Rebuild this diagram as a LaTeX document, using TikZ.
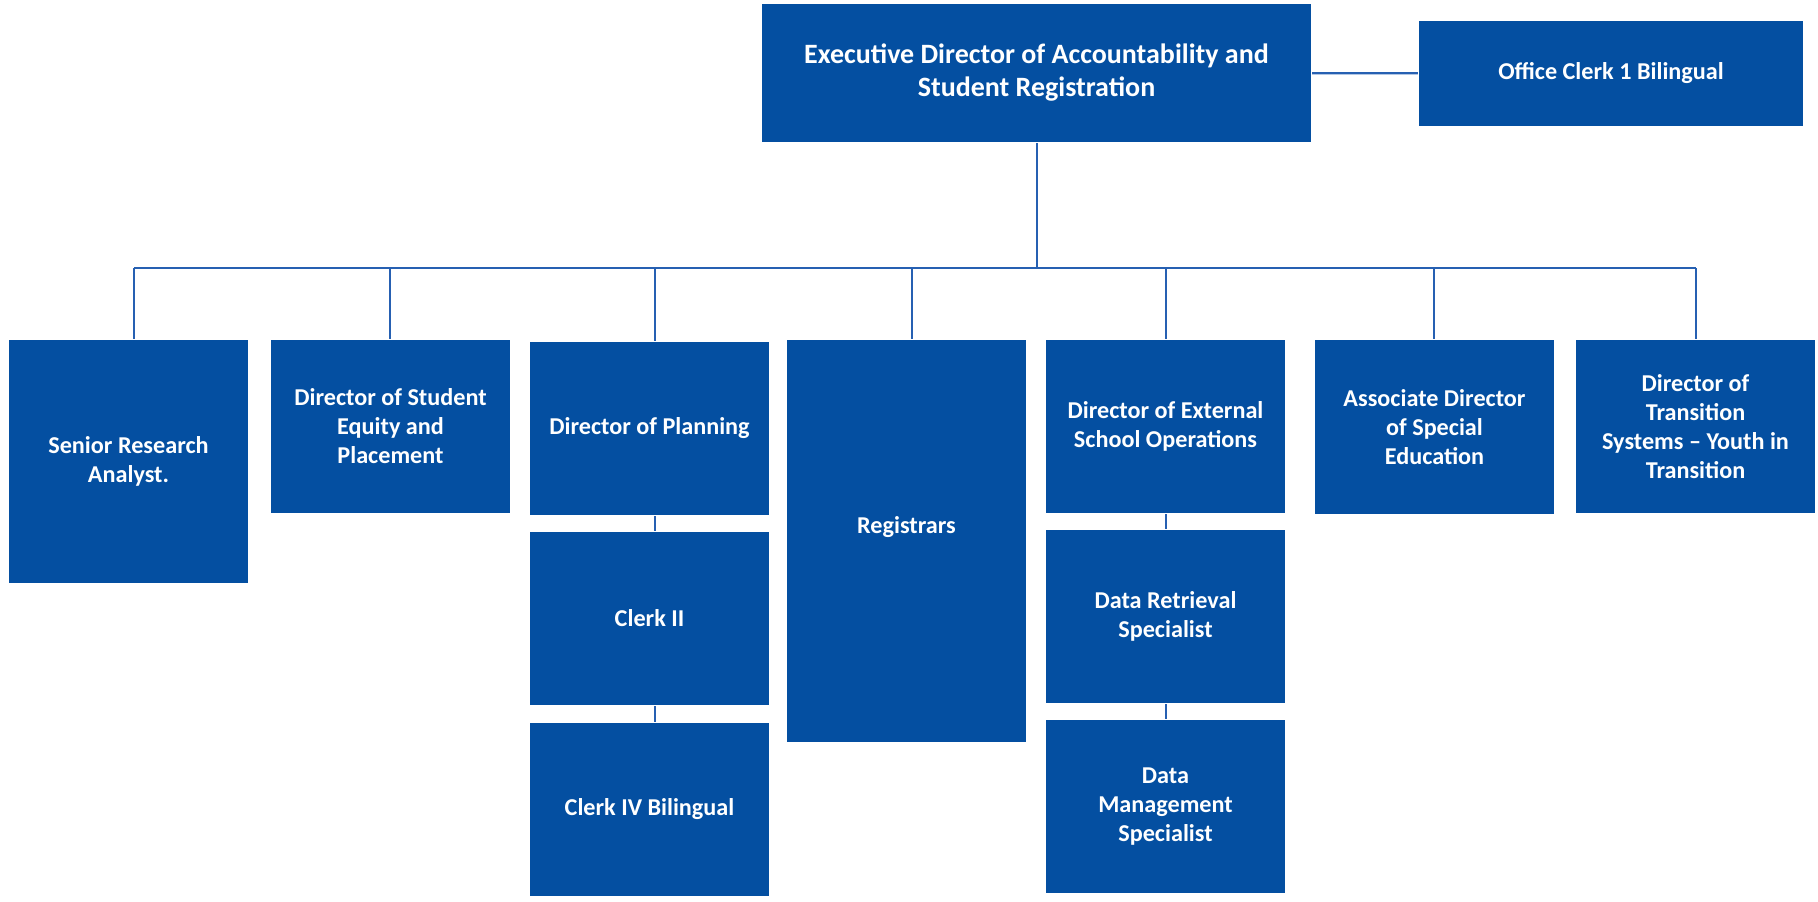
\documentclass[tikz,border=0pt]{standalone}
\usepackage{fontspec}
\setmainfont{Carlito}
\usepackage{tikz}
\definecolor{boxblue}{RGB}{4,79,161}
\definecolor{lineblue}{RGB}{38,96,178}

\begin{document}
\begin{tikzpicture}[x=0.5pt, y=-0.5pt, line width=1.1pt]
   \useasboundingbox (0,0) rectangle (1818,901);
   \begin{scope}[every node/.style={rectangle,fill=boxblue,text=white,align=center,inner sep=0pt,
                 font=\bfseries\fontsize{12.1}{14.5}\selectfont,minimum width=119.5pt,minimum height=86.5pt}]
    \node (top) [minimum width=274.5pt,minimum height=69pt,font=\bfseries\fontsize{14}{16.5}\selectfont]
       at (1036.5,73) {Executive Director of Accountability and\\Student Registration};
    \node (office) [minimum width=192pt,minimum height=52.5pt] at (1611,73.5) {Office Clerk 1 Bilingual};
    \node (sra) [minimum height=121.5pt] at (128.5,461.5) {Senior Research\\Analyst.};
    \node (dse) at (390.5,426.5) {Director of Student\\Equity and\\Placement};
    \node (dp) at (649.5,428.5) {Director of Planning};
    \node (c2) at (649.5,618.5) {Clerk II};
    \node (c4) at (649.5,809.5) {Clerk IV Bilingual};
    \node (reg) [minimum height=201pt,text depth=16.4pt] at (906.5,541) {Registrars};
    \node (ext) at (1165.5,426.5) {Director of External\\School Operations};
    \node (drs) at (1165.5,616.5) {Data Retrieval\\Specialist};
    \node (dms) at (1165.5,806.5) {Data\\Management\\Specialist};
    \node (ads) [minimum height=87pt] at (1434.5,427) {Associate Director\\of Special\\Education};
    \node (dts) at (1695.5,426.5) {Director of\\Transition\\Systems -- Youth in\\Transition};
   \end{scope}
   \begin{scope}[lineblue]
    \coordinate (bus) at (1037,268);
    \coordinate (d1) at (134,268);
    \coordinate (d2) at (390,268);
    \coordinate (d3) at (655,268);
    \coordinate (d4) at (912,268);
    \coordinate (d5) at (1166,268);
    \coordinate (d6) at (1434,268);
    \coordinate (d7) at (1696,268);
    \draw (top) -- (office);
    \draw (bus |- top.south) -- (bus);
    \draw (d1) -- (d7);
    \foreach \d/\n in {d1/sra,d2/dse,d3/dp,d4/reg,d5/ext,d6/ads,d7/dts}
      \draw (\d) -- (\d |- \n.north);
    \draw (d3 |- dp.south) -- (d3 |- c2.north);
    \draw (d3 |- c2.south) -- (d3 |- c4.north);
    \draw (d5 |- ext.south) -- (d5 |- drs.north);
    \draw (d5 |- drs.south) -- (d5 |- dms.north);
   \end{scope}
\end{tikzpicture}
\end{document}
